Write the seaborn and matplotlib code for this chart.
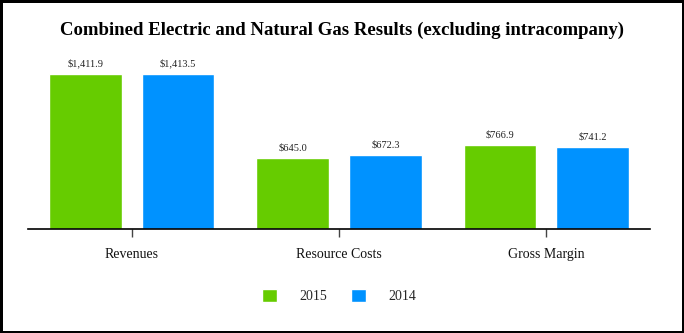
import matplotlib
matplotlib.use("Agg")
import matplotlib.pyplot as plt
import seaborn as sns
import pandas as pd

categories = ["Revenues", "Resource Costs", "Gross Margin"]
years = ["2015", "2014"]
values_2015 = [1411.9, 645.0, 766.9]
values_2014 = [1413.5, 672.3, 741.2]
colors = ["#66CC00", "#0092FF"]

df = pd.DataFrame({
    "category": categories * 2,
    "year": [years[0]] * 3 + [years[1]] * 3,
    "value": values_2015 + values_2014,
})

sns.set_theme(style="white")
plt.rcParams["font.family"] = ["Liberation Serif", "DejaVu Serif"]

fig = plt.figure(figsize=(6.84, 3.33), dpi=100)
fig.patch.set_edgecolor("black")
fig.patch.set_linewidth(2.5)
ax = fig.add_axes([28 / 684, 104 / 333, 622 / 684, 176 / 333])

sns.barplot(data=df, x="category", y="value", hue="year", hue_order=years,
            order=categories, palette=colors, width=0.894, gap=0.215,
            saturation=1, ax=ax, legend=True)

for cont in ax.containers:
    ax.bar_label(cont, labels=[f"${v:,.1f}" for v in cont.datavalues],
                 padding=4, fontsize=7.5, color="#222222")

ax.set_xlim(-0.5, 2.5)
ax.set_ylim(0, 1600)
ax.set_yticks([])
ax.set_xlabel("")
ax.set_ylabel("")
for s in ["left", "right", "top"]:
    ax.spines[s].set_visible(False)
ax.spines["bottom"].set_color("black")
ax.spines["bottom"].set_linewidth(1.2)
ax.tick_params(axis="x", bottom=True, length=6, width=1, color="#444444",
               pad=8, labelsize=10, labelcolor="#111111")

leg = ax.legend(loc="center", bbox_to_anchor=(0.5, -0.38), ncol=2,
                frameon=False, fontsize=10, handlelength=1.05,
                handleheight=1.05, handletextpad=1.6, columnspacing=1.75)

fig.text(0.5, 1 - 30 / 333, "Combined Electric and Natural Gas Results (excluding intracompany)",
         ha="center", va="center", fontsize=13.5, fontweight="bold", color="black")

fig.savefig("out.png", dpi=100)
